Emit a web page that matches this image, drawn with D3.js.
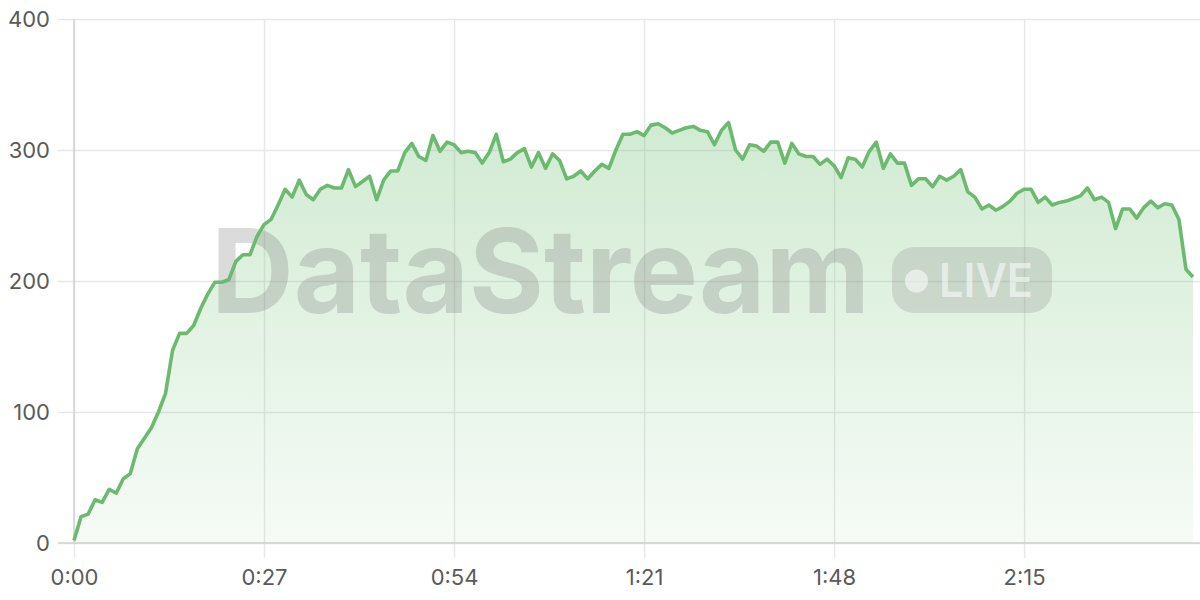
<!DOCTYPE html>
<html>
<head>
<meta charset="utf-8">
<script src="https://cdn.jsdelivr.net/npm/d3@7"></script>
<style>
  html, body { margin: 0; padding: 0; background: #fff; }
  svg { display: block; }
</style>
</head>
<body>
<svg id="chart" width="1200" height="600"></svg>
<script>
// Values per second (0:00 .. 2:39)
const values = [
  2, 20, 22, 33, 31, 41, 38, 49, 53, 72,
  80, 88, 100, 114, 147, 160, 160, 166, 179, 190,
  199, 199, 201, 215, 220, 220, 234, 243, 247, 258,
  270, 264, 277, 266, 262, 270, 273, 271, 271, 285,
  272, 276, 280, 262, 277, 284, 284, 298, 305, 295,
  292, 311, 299, 306, 304, 298, 299, 298, 290, 298,
  312, 291, 293, 298, 301, 287, 298, 286, 297, 292,
  278, 280, 284, 278, 284, 289, 286, 300, 312, 312,
  314, 311, 319, 320, 317, 313, 315, 317, 318, 315,
  314, 304, 315, 321, 300, 293, 304, 303, 299, 306,
  306, 290, 305, 297, 295, 295, 289, 293, 288, 279,
  294, 293, 287, 299, 306, 286, 297, 290, 290, 273,
  278, 278, 272, 280, 277, 280, 285, 268, 264, 255,
  258, 254, 257, 261, 267, 270, 270, 260, 264, 258,
  260, 261, 263, 265, 271, 262, 264, 260, 240, 255,
  255, 248, 256, 261, 256, 259, 258, 247, 209, 203
];
const xTickValues = [0, 27, 54, 81, 108, 135];
const xTickLabels = ["0:00", "0:27", "0:54", "1:21", "1:48", "2:15"];
const yTickValues = [0, 100, 200, 300, 400];
const watermarkText = "DataStream";
const badgeText = "LIVE";

(function () {
const svg = d3.select("#chart");
const mLeft = 74, mRight = 1193, mTop = 19, mBottom = 543, gridRight = 1200;
const fontFamily = "Inter, 'Open Sans', sans-serif";

const x = d3.scaleLinear().domain([0, values.length - 1]).range([mLeft, mRight]);
const y = d3.scaleLinear().domain([0, 400]).range([mBottom, mTop]);

// gradient
const defs = svg.append("defs");
const grad = defs.append("linearGradient").attr("id", "areaGrad")
  .attr("x1", 0).attr("y1", 0).attr("x2", 0).attr("y2", 1);
grad.append("stop").attr("offset", "0%").attr("stop-color", "#66bb6a").attr("stop-opacity", 0.30);
grad.append("stop").attr("offset", "100%").attr("stop-color", "#66bb6a").attr("stop-opacity", 0.06);

// horizontal grid
const gy = svg.append("g").attr("transform", `translate(${mLeft - 16},0)`);
gy.call(d3.axisRight(y).tickValues(yTickValues).tickSize(gridRight - mLeft + 16).tickFormat(""));
gy.select(".domain").remove();
gy.selectAll(".tick line").attr("stroke", "#e8e8e8").attr("stroke-width", 1.5);

// vertical grid
const gx = svg.append("g").attr("transform", `translate(0,${mTop})`);
gx.call(d3.axisBottom(x).tickValues(xTickValues).tickSize(mBottom - mTop + 15).tickFormat(""));
gx.select(".domain").remove();
gx.selectAll(".tick line").attr("stroke", "#e8e8e8").attr("stroke-width", 1.5);

// axis lines
svg.append("line").attr("x1", mLeft).attr("x2", mLeft).attr("y1", mTop).attr("y2", mBottom)
  .attr("stroke", "#d2d2d2").attr("stroke-width", 1.5);
svg.append("line").attr("x1", mLeft - 16).attr("x2", gridRight).attr("y1", y(0)).attr("y2", y(0))
  .attr("stroke", "#d2d2d2").attr("stroke-width", 1.5);

// area
const area = d3.area().x((d, i) => x(i)).y0(y(0)).y1(d => y(d));
svg.append("path").datum(values).attr("d", area).attr("fill", "url(#areaGrad)");

// watermark
const wm = svg.append("g");
wm.append("text").attr("x", 211).attr("y", 313)
  .attr("font-family", fontFamily).attr("font-weight", 700).attr("font-size", 117)
  .attr("textLength", 659).attr("lengthAdjust", "spacingAndGlyphs")
  .attr("fill", "#7a7a7a").attr("fill-opacity", 0.27).text(watermarkText);
wm.append("rect").attr("x", 892).attr("y", 247).attr("width", 160).attr("height", 66).attr("rx", 22)
  .attr("fill", "#7a7a7a").attr("fill-opacity", 0.22);
wm.append("circle").attr("cx", 916.5).attr("cy", 281).attr("r", 11.5)
  .attr("fill", "#ffffff").attr("fill-opacity", 0.55);
wm.append("text").attr("x", 939).attr("y", 297)
  .attr("font-family", fontFamily).attr("font-weight", 600).attr("font-size", 47)
  .attr("textLength", 94).attr("lengthAdjust", "spacingAndGlyphs")
  .attr("fill", "#ffffff").attr("fill-opacity", 0.55).text(badgeText);

// line
const line = d3.line().x((d, i) => x(i)).y(d => y(d));
svg.append("path").datum(values).attr("d", line).attr("fill", "none")
  .attr("stroke", "#6cba6f").attr("stroke-width", 3.6).attr("stroke-linejoin", "round");

// y labels
const yl = svg.append("g").attr("transform", `translate(${mLeft},0)`);
yl.call(d3.axisLeft(y).tickValues(yTickValues).tickSize(0).tickPadding(24).tickFormat(d3.format("d")));
yl.select(".domain").remove();
yl.selectAll(".tick text").attr("font-family", fontFamily).attr("font-size", 22)
  .attr("fill", "#5a5a5a");

// x labels
const xl = svg.append("g").attr("transform", `translate(0,${mBottom})`);
xl.call(d3.axisBottom(x).tickValues(xTickValues).tickSize(0).tickPadding(26)
  .tickFormat((d, i) => xTickLabels[i]));
xl.select(".domain").remove();
xl.selectAll(".tick text").attr("font-family", fontFamily).attr("font-size", 22)
  .attr("fill", "#5a5a5a");
})();
</script>
</body>
</html>
